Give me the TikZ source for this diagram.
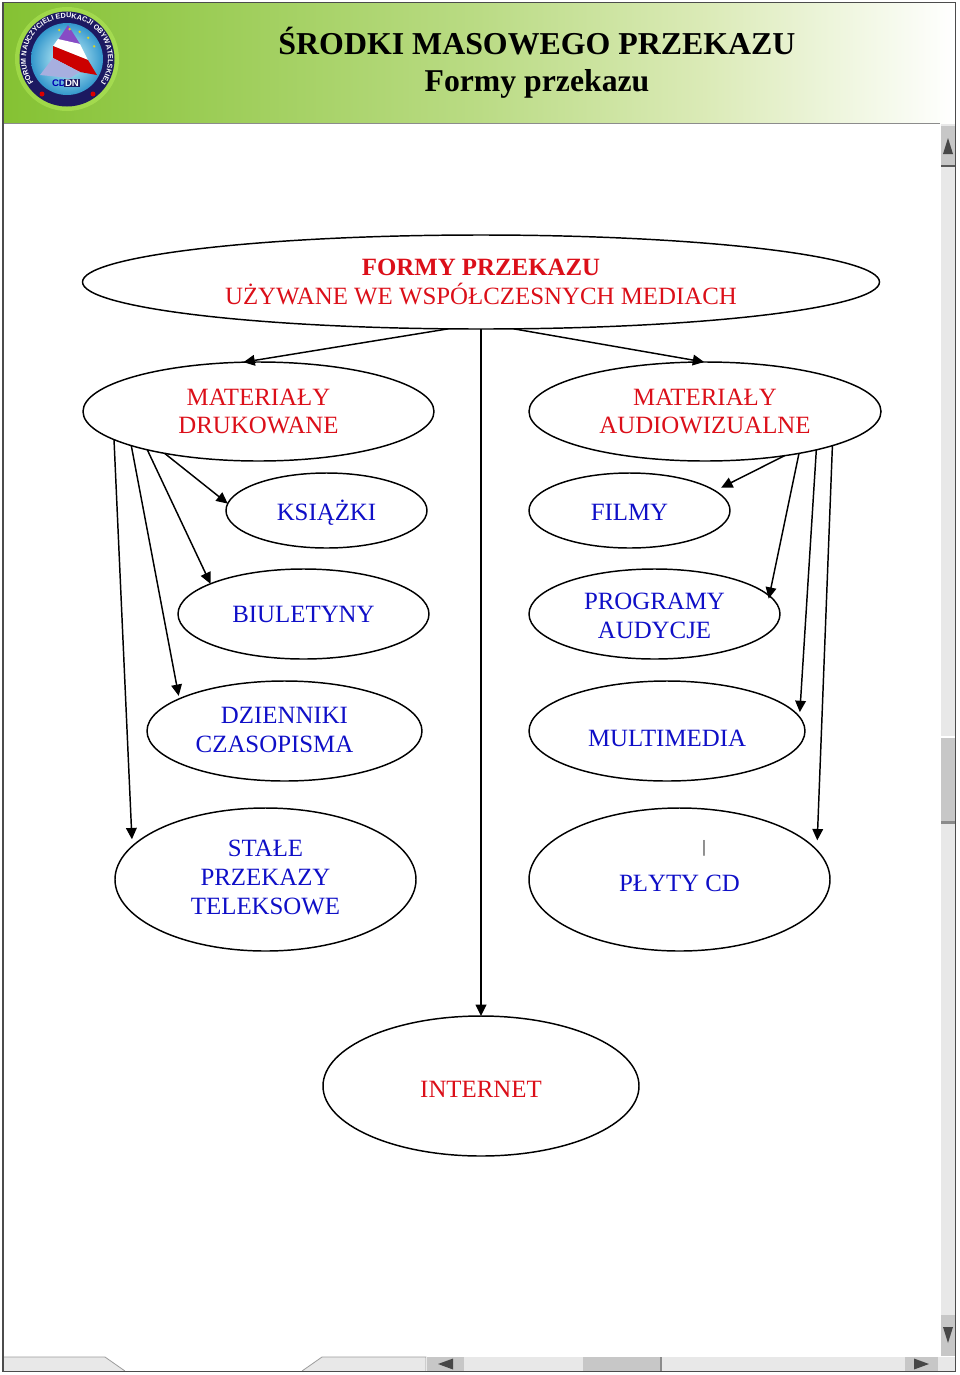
\documentclass[tikz,border=0pt]{standalone}
\usepackage{fontspec}
\setmainfont{Liberation Serif}
\setsansfont{Liberation Sans}
\usetikzlibrary{shapes.geometric,arrows.meta,decorations.text}
\definecolor{printblue}{rgb}{0.06,0.06,0.78}
\definecolor{printred}{rgb}{0.86,0.06,0.10}
\definecolor{barlight}{gray}{0.91}
\definecolor{barmid}{gray}{0.78}
\definecolor{bardark}{gray}{0.35}
\definecolor{ringnavy}{rgb}{0.11,0.10,0.38}
\pgfdeclarehorizontalshading{headershade}{100bp}{rgb(0bp)=(0.52,0.76,0.20);
rgb(25bp)=(0.52,0.76,0.20);
rgb(50bp)=(0.73,0.86,0.52);
rgb(62bp)=(0.86,0.92,0.72);
rgb(75bp)=(1,1,1);
rgb(100bp)=(1,1,1)}
\tikzset{
formshape/.style n args={2}{ellipse,draw=black,line width=1.1pt,inner sep=0pt,outer sep=0pt,align=center,
minimum width=#1*0.75pt,minimum height=#2*0.75pt,font=\fontsize{18.65}{21.6}\selectfont},
bluetext/.style={text=printblue},
redtext/.style={text=printred},
formarrow/.style={-{Triangle[length=8.5pt,width=8pt]},line width=1.1pt,black},
barshape/.style={fill=barmid,draw=none},
trackshape/.style={fill=barlight,draw=none},
barmark/.style={fill=bardark!80!black,draw=none}
}
\begin{document}
\begin{tikzpicture}[x=0.75pt,y=-0.75pt]
\useasboundingbox (0,0) rectangle (960,1375);
% header band
\shade[shading=headershade] (4,3) rectangle (955,123);
\draw[black!45,line width=0.6pt] (4,123.5) -- (940,123.5);
\node[font=\fontsize{23.9}{28}\selectfont\bfseries] (title) at (537,41) {ŚRODKI MASOWEGO PRZEKAZU};
\node[font=\fontsize{23.8}{26}\selectfont\bfseries] (subtitle) at (537,84) {Formy przekazu};
% logo
\fill[green!35!yellow!60!white,opacity=0.35] (67,59) circle (52);
\fill[ringnavy] (67,59) circle (47.5);
\shade[inner color=white!85!cyan,outer color=blue!35!cyan!60!gray] (67,59) circle (36);
\fill[blue!35!violet!70!white] (68,25) -- (58,40) -- (80,44) -- cycle;
\fill[white] (58,39) -- (80,44) -- (88,60) -- (53,46) -- cycle;
\fill[red!80!black] (53,46) -- (88,60) -- (97,75) -- (80,72) -- (53,58) -- cycle;
\fill[cyan!30!blue!35!white] (53,58) -- (80,72) -- (70,78) -- (40,75) -- cycle;
\foreach \ang in {25,45,65,85,105}
  \fill[yellow!85!black] ({67+30*cos(\ang)},{59-30*sin(\ang)}) circle (1.3);
\node[inner sep=0pt,font=\sffamily\bfseries\fontsize{7.2}{8}\selectfont,text=blue!70!black] (logocd) at (59,83) {CD};
\node[inner sep=0.6pt,fill=ringnavy,font=\sffamily\bfseries\fontsize{7.2}{8}\selectfont,text=white] (logodn) at (72,83) {DN};
\fill[red!85!black] (42,94) circle (2.5) (93,94) circle (2.5);
\path[decorate,decoration={text along path,text align=center,
  text={|\sffamily\bfseries\fontsize{5.4}{6}\selectfont\color{white}|FORUM NAUCZYCIELI EDUKACJI OBYWATELSKIEJ}}]
  (39.6,89.5) arc[start angle=132,end angle=408,radius=41];
% scroll bars
\fill[trackshape] (941,124) rectangle (954.5,1356);
\fill[barshape] (941,126) rectangle (954.5,166);
\fill[bardark] (941,165) rectangle (954.5,167);
\fill[barmark] (948,138) -- (943,154) -- (953,154) -- cycle;
\fill[barshape] (941,737) rectangle (954.5,823);
\fill[white] (941,736) rectangle (954.5,738);
\fill[bardark!70] (941,821) rectangle (954.5,824);
\fill[barshape] (941,1315) rectangle (954.5,1356);
\fill[barmark] (948,1343) -- (943,1327) -- (953,1327) -- cycle;
\fill[trackshape] (4,1357) -- (105,1357) -- (125,1371) -- (4,1371) -- cycle;
\fill[trackshape] (302,1371) -- (322,1357) -- (426,1357) -- (426,1371) -- cycle;
\draw[bardark!60,line width=0.6pt] (4,1357) -- (105,1357) -- (125,1371);
\draw[bardark!60,line width=0.6pt] (302,1371) -- (322,1357) -- (426,1357) -- (426,1371);
\fill[trackshape] (426,1357) rectangle (955,1371);
\fill[barshape] (427,1357) rectangle (464,1371);
\fill[barmark] (438,1364) -- (453,1358.5) -- (453,1369.5) -- cycle;
\fill[barshape] (583,1357) rectangle (661,1371);
\fill[bardark!70] (660,1357) rectangle (662,1371);
\fill[barshape] (905,1357) rectangle (938,1371);
\fill[barmark] (929,1364) -- (914,1358.5) -- (914,1369.5) -- cycle;
% frame
\draw[black!70,line width=0.9pt] (3,2.5) -- (955.5,2.5) -- (955.5,1371.5) -- (3,1371.5) -- cycle;
% forms
\node[formshape={797}{94},redtext] (forms) at (481,282) {\textbf{FORMY PRZEKAZU}\\UŻYWANE WE WSPÓŁCZESNYCH MEDIACH};
\node[formshape={351}{99},redtext] (printed) at (258.5,411.5) {MATERIAŁY\\DRUKOWANE};
\node[formshape={352}{99},redtext] (audiovis) at (705,411.5) {MATERIAŁY\\AUDIOWIZUALNE};
\node[formshape={201}{75},bluetext] (books) at (326.5,510.5) {\rule{0pt}{19pt}KSIĄŻKI};
\node[formshape={201}{75},bluetext] (films) at (629.5,510.5) {\rule{0pt}{15pt}FILMY};
\node[formshape={251}{90},bluetext] (bulletins) at (303.5,614) {BIULETYNY};
\node[formshape={251}{90},bluetext] (programs) at (654.5,614) {\rule{0pt}{15pt}PROGRAMY\\AUDYCJE};
\node[formshape={275}{100},bluetext] (papers) at (284.5,731) {DZIENNIKI\\CZASOPISMA\rule{15pt}{0pt}\rule[-2pt]{0pt}{2pt}};
\node[formshape={276}{100},bluetext] (multimedia) at (667,731) {\rule{0pt}{22.8pt}MULTIMEDIA};
\node[formshape={301}{143},bluetext] (teletext) at (265.5,879.5) {STAŁE\\PRZEKAZY\\TELEKSOWE\rule[-3pt]{0pt}{3pt}};
\node[formshape={301}{143},bluetext] (discs) at (679.5,879.5) {\rule{0pt}{18pt}PŁYTY CD};
\node[font=\fontsize{13}{14}\selectfont] (discsmark) at (704,848) {|};
\node[formshape={316}{140},redtext] (internet) at (481,1086) {\rule{0pt}{16.5pt}INTERNET};
% connectors
\draw[formarrow] (forms.-125.8) -- (printed.107.3);
\draw[formarrow] (forms.-55) -- (audiovis.91);
\draw[formarrow] (forms.south) -- (internet.north);
\draw[formarrow] (printed.-156.2) -- (books.176.2);
\draw[formarrow] (printed.-161) -- (bulletins.162.2);
\draw[formarrow,shorten >=2.25pt] (printed.-165.5) -- (papers.163.3);
\draw[formarrow,shorten >=5.25pt] (printed.-169.2) -- (teletext.166.8);
\draw[formarrow,shorten >=5.2pt] (audiovis.-29.1) -- (films.13.4);
\draw[formarrow,shorten >=-2.2pt] (audiovis.-24.1) -- (programs.9.8);
\draw[formarrow,shorten >=3.75pt] (audiovis.-19.1) -- (multimedia.6);
\draw[formarrow,shorten >=7.5pt] (audiovis.-15.2) -- (discs.12.7);
\end{tikzpicture}
\end{document}
